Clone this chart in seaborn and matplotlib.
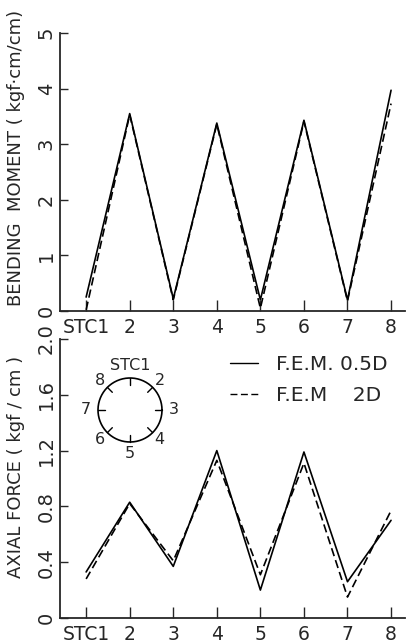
import matplotlib
matplotlib.use("Agg")
import matplotlib.pyplot as plt
import numpy as np
import pandas as pd
import seaborn as sns

# Stations around the ring
stations = ["STC1", "2", "3", "4", "5", "6", "7", "8"]
pos = list(range(1, 9))

# Bending moment (kgf.cm/cm)
moment_05d = [0.25, 3.55, 0.22, 3.38, 0.20, 3.43, 0.20, 3.97]
moment_2d = [0.02, 3.53, 0.20, 3.36, 0.05, 3.41, 0.18, 3.73]

# Axial force (kgf/cm)
axial_05d = [0.33, 0.83, 0.37, 1.20, 0.20, 1.19, 0.26, 0.70]
axial_2d = [0.28, 0.82, 0.41, 1.13, 0.31, 1.11, 0.15, 0.77]

label_05d = "F.E.M. 0.5D"
label_2d = "F.E.M    2D"

top = pd.DataFrame({
    "pos": pos * 2,
    "val": moment_05d + moment_2d,
    "series": [label_05d] * 8 + [label_2d] * 8,
})
bottom = pd.DataFrame({
    "pos": pos * 2,
    "val": axial_05d + axial_2d,
    "series": [label_05d] * 8 + [label_2d] * 8,
})

sns.set_theme(style="ticks")
plt.rcParams["font.family"] = ["DejaVu Sans"]

fig = plt.figure(figsize=(4.09, 6.44), dpi=100)
ax1 = fig.add_axes([0.1467, 0.5171, 0.8435, 0.4317])
ax2 = fig.add_axes([0.1467, 0.0404, 0.8435, 0.4332])

dash_map = {label_05d: "", label_2d: (5, 2.5)}

for ax, df in [(ax1, top), (ax2, bottom)]:
    sns.lineplot(data=df, x="pos", y="val", style="series", dashes=dash_map,
                 color="black", linewidth=1.2, ax=ax, legend=(ax is ax2))
    ax.set_xlim(0.40, 8.32)
    ax.set_xticks(pos)
    ax.set_xticklabels(stations, fontsize=13.5)
    ax.set_xlabel("")
    sns.despine(ax=ax)
    ax.spines["left"].set_linewidth(1.3)
    ax.spines["bottom"].set_linewidth(1.3)
    ax.tick_params(axis="x", direction="in", length=8, width=1, pad=5)
    ax.tick_params(axis="y", direction="in", length=6, width=1, pad=3)

# top panel
ax1.set_ylim(0, 5)
ax1.set_yticks([0, 1, 2, 3, 4, 5])
ax1.set_yticklabels(["0", "1", "2", "3", "4", "5"], rotation=90, va="center", fontsize=14)
ax1.set_ylabel("BENDING  MOMENT ( kgf·cm/cm)", fontsize=13)
ax1.yaxis.set_label_coords(-0.102, 0.55)

# bottom panel
ax2.set_ylim(0, 2.0)
ax2.set_yticks([0, 0.4, 0.8, 1.2, 1.6, 2.0])
ax2.set_yticklabels(["0", "0.4", "0.8", "1.2", "1.6", "2.0"], rotation=90, va="center", fontsize=14)
ax2.set_ylabel("AXIAL FORCE ( kgf / cm )", fontsize=13)
ax2.yaxis.set_label_coords(-0.102, 0.54)

leg = ax2.legend(loc="upper left", bbox_to_anchor=(230 / 409, 1 - 355 / 644),
                 bbox_transform=fig.transFigure, frameon=False, borderpad=0,
                 borderaxespad=0, fontsize=14.5, handlelength=1.4,
                 handletextpad=0.9, labelspacing=0.6)
for line in leg.get_lines():
    line.set_color("black")
    line.set_linewidth(1.0)

# ring sketch with station marks
cx, cy, r = 130, 644 - 410, 32
ins = fig.add_axes([(cx - 55) / 409, (cy - 55) / 644, 110 / 409, 110 / 644])
ins.set_xlim(-55, 55)
ins.set_ylim(-55, 55)
ins.set_aspect("equal")
ins.axis("off")
t = np.linspace(0, 2 * np.pi, 200)
ins.plot(r * np.cos(t), r * np.sin(t), color="black", lw=1.2)
for i, name in enumerate(stations):
    a = np.pi / 2 - i * np.pi / 4
    ins.plot([r * np.cos(a), (r - 7) * np.cos(a)], [r * np.sin(a), (r - 7) * np.sin(a)],
             color="black", lw=1.0)
    rr = r + 12 if i % 2 == 0 else r + 10
    ins.text(rr * np.cos(a), rr * np.sin(a), name, ha="center", va="center", fontsize=11.5)

fig.savefig("out.png", dpi=100)
